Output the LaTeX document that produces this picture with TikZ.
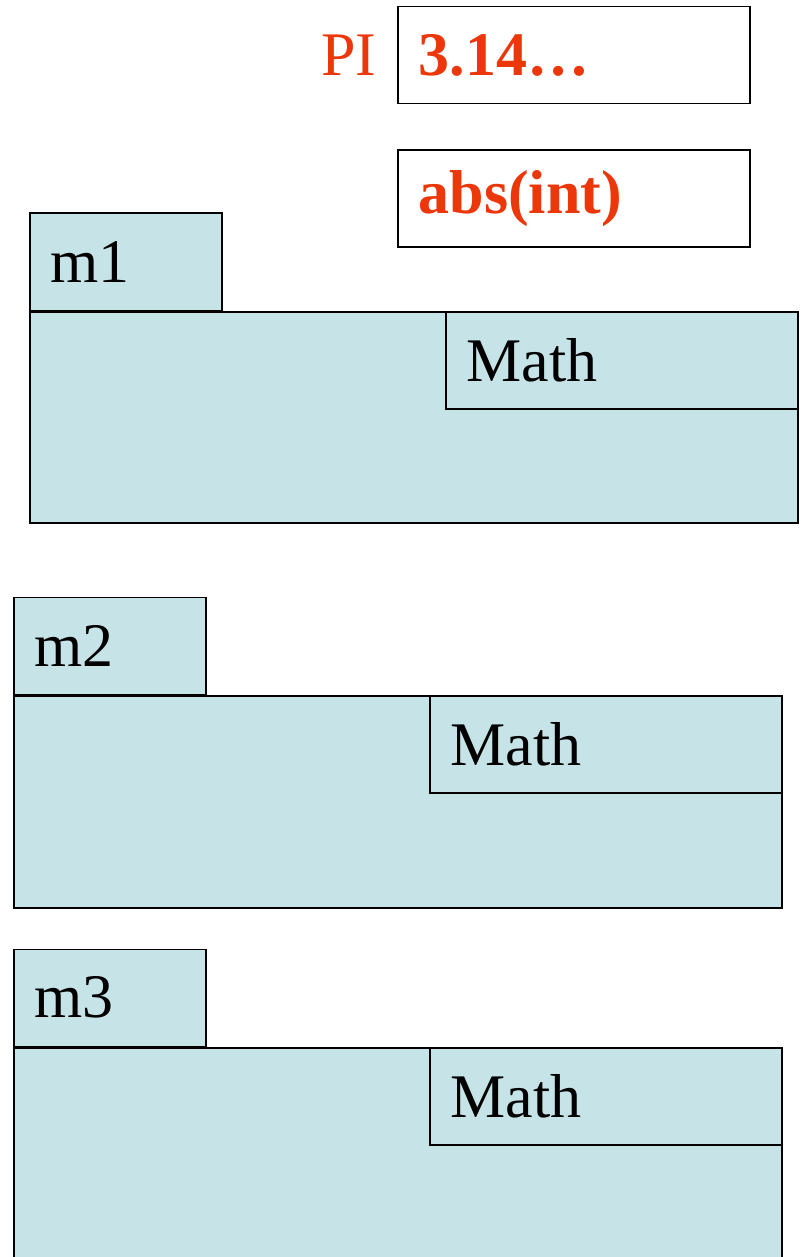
\documentclass[tikz,border=0pt]{standalone}
\usepackage{fontspec}
\setmainfont{Liberation Serif}
\usetikzlibrary{positioning}
\definecolor{pkgblue}{RGB}{198,228,231}
\definecolor{valred}{RGB}{235,55,10}
\begin{document}
\begin{tikzpicture}[x=.5pt, y=-.5pt, line width=.75pt, font=\fontsize{31}{37}\selectfont,
	pkg/.style={draw, fill=pkgblue, inner sep=0, minimum width=384pt, anchor=north west},
	tab/.style={draw, fill=pkgblue, inner xsep=10.5pt, inner ysep=0, text width=75pt, minimum height=48.5pt, align=left},
	cls/.style={draw, fill=pkgblue, inner xsep=10.5pt, inner ysep=0, text width=155pt, minimum height=48.5pt, align=left},
	val/.style={cls, fill=white, text=valred, font=\fontsize{31}{37}\selectfont\bfseries}]
	\useasboundingbox (0,0) rectangle (804,1257);
	\clip (0,0) rectangle (804,1257);
	% constant and method of the class
	\node[val, anchor=north west] (pi) at (397,6) {3.14…};
	\node[val, below=22.5pt of pi] (abs) {abs(int)};
	\node[text=valred, inner sep=0, left=10pt of pi] (piname) {PI};
	% one package per module, each holding its own Math
	\foreach \n/\x/\y/\h in {1/29/311/105.5pt, 2/13/695/106pt, 3/13/1047/150pt}{
		\node[pkg, minimum height=\h] (pkg\n) at (\x,\y) {};
		\node[tab, anchor=south west] (m\n) at (pkg\n.north west) {m\n};
		\node[cls, anchor=north east] (math\n) at (pkg\n.north east) {Math};
	}
\end{tikzpicture}
\end{document}
